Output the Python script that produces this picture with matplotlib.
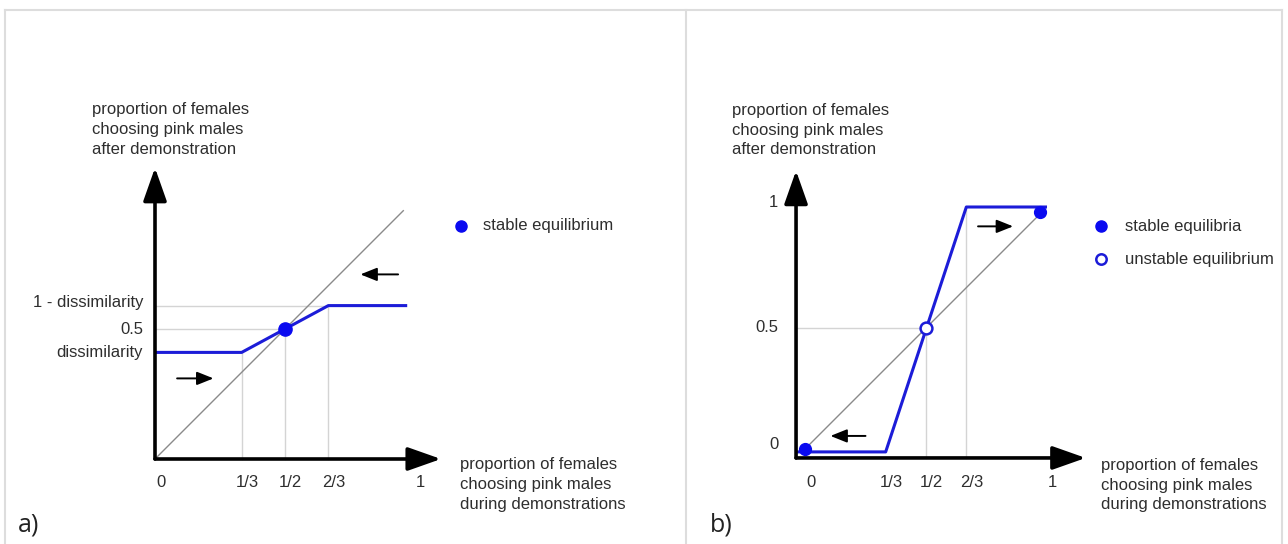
import matplotlib
matplotlib.use("Agg")
import matplotlib.pyplot as plt
from matplotlib.lines import Line2D

plt.rcParams["font.family"] = ["Liberation Sans", "DejaVu Sans"]

W, H = 1288, 544
TXT = "#2e2e2e"
BLUE = "#1c1cd8"
DOT = "#0a0af0"
GRID = "#d4d4d4"

# x ticks shared by both panels
x_ticks = [0, 1/3, 1/2, 2/3, 1]
x_tick_labels = ["0", "1/3", "1/2", "2/3", "1"]

# panel a: conformity with dissimilarity
a_dissim = 0.41
a_x = [0, 1/3, 2/3, 0.97]
a_y = [a_dissim, a_dissim, 1 - a_dissim, 1 - a_dissim]
a_diag = [0, 0.955]
a_stable = (0.5, 0.5)
a_y_ticks = [1 - a_dissim, 0.5, a_dissim]
a_y_labels = ["1 - dissimilarity", "0.5", "dissimilarity"]

# panel b: strong conformity
b_x = [-0.037, 1/3, 2/3, 1.0]
b_y = [-0.012, -0.012, 1.0, 1.0]
b_diag = [0, 0.96]
b_stable_x = [0, 0.97]
b_stable_y = [0, 0.98]
b_unstable = (0.5, 0.5)
b_y_ticks = [1, 0.5, 0.017]
b_y_labels = ["1", "0.5", "0"]

ylab = "proportion of females\nchoosing pink males\nafter demonstration"
xlab = "proportion of females\nchoosing pink males\nduring demonstrations"

fig = plt.figure(figsize=(W / 100, H / 100), dpi=100)


def make_axes(px0, px1, ox, oy, scale):
    # axes covering pixel columns px0..px1, data origin at pixel (ox, oy)
    ax = fig.add_axes([px0 / W, 0, (px1 - px0) / W, 1])
    ax.set_xlim((px0 - ox) / scale, (px1 - ox) / scale)
    ax.set_ylim((oy - H) / scale, oy / scale)
    ax.axis("off")
    return ax


def axis_arrow(ax, start, end):
    ax.annotate("", xy=end, xytext=start,
                arrowprops=dict(arrowstyle="-|>,head_length=1.7,head_width=0.6",
                                mutation_scale=12, lw=2.6, color="black",
                                shrinkA=0, shrinkB=0))


def small_arrow(ax, start, end):
    ax.annotate("", xy=end, xytext=start,
                arrowprops=dict(arrowstyle="-|>,head_length=1.0,head_width=0.4",
                                mutation_scale=10, lw=1.4, color="black",
                                shrinkA=0, shrinkB=0))


fs = 12
ls = 1.4

# ---------------- panel a ----------------
ax1 = make_axes(0, 686, 155, 459, 260.0)
ax1.plot([0, 2/3], [1 - a_dissim] * 2, color=GRID, lw=1)
ax1.plot([0, 0.5], [0.5, 0.5], color=GRID, lw=1)
for xv, top in zip([1/3, 1/2, 2/3], [a_dissim, 0.5, 1 - a_dissim]):
    ax1.plot([xv, xv], [0, top], color=GRID, lw=1)
ax1.plot(a_diag, a_diag, color="#8a8a8a", lw=1)
ax1.plot(a_x, a_y, color=BLUE, lw=2.2, solid_capstyle="butt")
ax1.plot(*a_stable, "o", color=DOT, ms=9.5)
axis_arrow(ax1, (0, 0), (0, 1.12))
axis_arrow(ax1, (0, 0), (1.10, 0))
small_arrow(ax1, (0.085, 0.31), (0.225, 0.31))
small_arrow(ax1, (0.935, 0.71), (0.79, 0.71))
for xv, lab in zip(x_ticks, x_tick_labels):
    ax1.annotate(lab, (xv, 0), xytext=(4, -17), textcoords="offset points",
                 ha="center", va="center", fontsize=fs, color=TXT)
for yv, lab in zip(a_y_ticks, a_y_labels):
    ax1.text(-0.046, yv + (0.012 if yv > 0.5 else 0), lab, ha="right", va="center",
             fontsize=fs, color=TXT)
ax1.text(-0.242, 1.267, ylab, ha="left", va="center", fontsize=fs, color=TXT,
         linespacing=ls)
ax1.text(1.173, -0.099, xlab, ha="left", va="center", fontsize=fs, color=TXT,
         linespacing=ls)
ax1.plot(1.177, 0.897, "o", color=DOT, ms=8)
ax1.text(1.262, 0.897, "stable equilibrium", ha="left", va="center",
         fontsize=fs, color=TXT)

# ---------------- panel b ----------------
ax2 = make_axes(686, 1288, 805, 449, 242.0)
ax2.plot([-0.037, 0.5], [0.5, 0.5], color=GRID, lw=1)
ax2.plot([0.5, 0.5], [-0.037, 0.5], color=GRID, lw=1)
ax2.plot([2/3, 2/3], [-0.037, 1], color=GRID, lw=1)
ax2.plot(b_diag, b_diag, color="#8a8a8a", lw=1)
ax2.plot(b_x, b_y, color=BLUE, lw=2.2, solid_capstyle="butt")
ax2.plot(b_stable_x, b_stable_y, "o", color=DOT, ms=8.5, ls="none")
ax2.plot(*b_unstable, "o", mfc="white", mec=BLUE, mew=1.8, ms=8.5)
axis_arrow(ax2, (-0.037, -0.037), (-0.037, 1.15))
axis_arrow(ax2, (-0.037, -0.037), (1.16, -0.037))
small_arrow(ax2, (0.715, 0.92), (0.86, 0.92))
small_arrow(ax2, (0.25, 0.054), (0.105, 0.054))
for xv, lab in zip(x_ticks, x_tick_labels):
    ax2.annotate(lab, (xv, -0.037), xytext=(4, -17.5), textcoords="offset points",
                 ha="center", va="center", fontsize=fs, color=TXT)
for yv, lab in zip(b_y_ticks, b_y_labels):
    ax2.text(-0.11, yv + (0.02 if yv == 1 else 0), lab, ha="right", va="center",
             fontsize=fs, color=TXT)
ax2.text(-0.302, 1.318, ylab, ha="left", va="center", fontsize=fs, color=TXT,
         linespacing=ls)
ax2.text(1.223, -0.149, xlab, ha="left", va="center", fontsize=fs, color=TXT,
         linespacing=ls)
ax2.plot(1.223, 0.921, "o", color=DOT, ms=8)
ax2.text(1.322, 0.921, "stable equilibria", ha="left", va="center",
         fontsize=fs, color=TXT)
ax2.plot(1.223, 0.785, "o", mfc="white", mec=BLUE, mew=1.8, ms=7.5)
ax2.text(1.322, 0.785, "unstable equilibrium", ha="left", va="center",
         fontsize=fs, color=TXT)

# panel letters
fig.text(18 / W, 1 - 525 / H, "a)", fontsize=18, color="#222222",
         family=["Open Sans", "DejaVu Sans"], va="center", ha="left")
fig.text(710 / W, 1 - 525 / H, "b)", fontsize=18, color="#222222",
         family=["Open Sans", "DejaVu Sans"], va="center", ha="left")

# light frame around the panels
frame = "#dddddd"
for xs, ys in [([5, 1282], [10, 10]), ([5, 5], [10, H]),
               ([686, 686], [10, H]), ([1282, 1282], [10, H])]:
    fig.add_artist(Line2D([x / W for x in xs], [1 - y / H for y in ys],
                          color=frame, lw=1.5))

fig.savefig("out.png", dpi=100, facecolor="white")
